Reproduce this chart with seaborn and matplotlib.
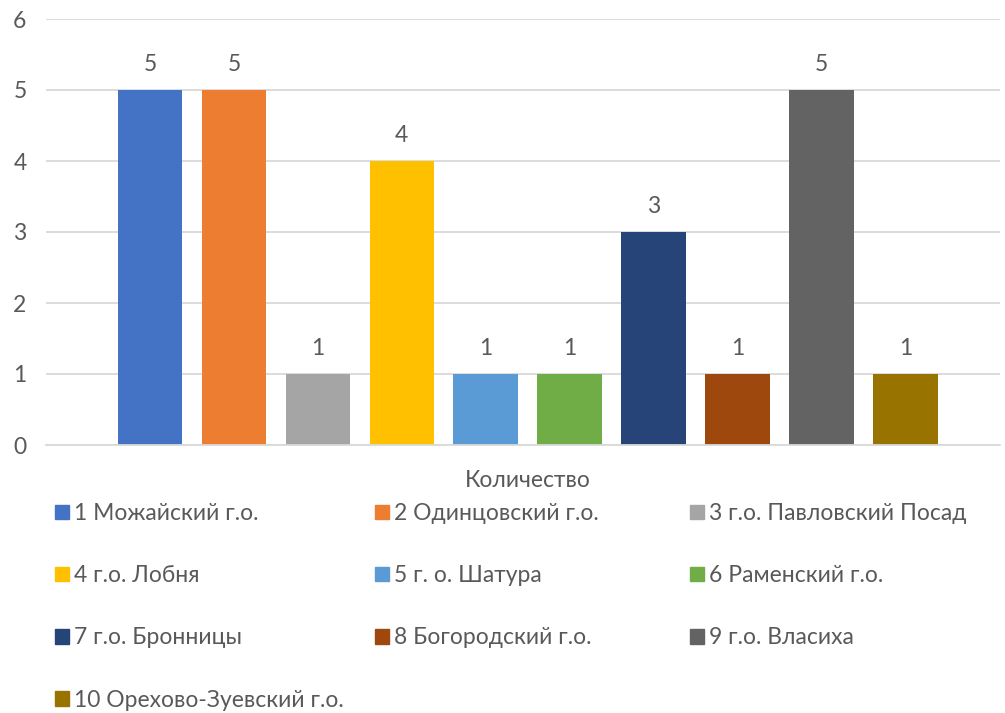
import matplotlib
matplotlib.use('Agg')
import matplotlib.pyplot as plt
import seaborn as sns
import pandas as pd

# Data
districts = ['1 Можайский г.о.', '2 Одинцовский г.о.', '3 г.о. Павловский Посад',
             '4 г.о. Лобня', '5 г. о. Шатура', '6 Раменский г.о.',
             '7 г.о. Бронницы', '8 Богородский г.о.', '9 г.о. Власиха',
             '10 Орехово-Зуевский г.о.']
counts = [5, 5, 1, 4, 1, 1, 3, 1, 5, 1]
category = 'Количество'
colors = ['#4472C4', '#ED7D31', '#A5A5A5', '#FFC000', '#5B9BD5',
          '#70AD47', '#264478', '#9E480E', '#636363', '#997300']

df = pd.DataFrame({'cat': [category] * len(districts), 'district': districts, 'count': counts})

sns.set_style('white')
plt.rcParams['font.family'] = ['Lato', 'DejaVu Sans']
text_col = '#595959'
fs = 16.5

fig = plt.figure(figsize=(10.05, 7.13), dpi=100)
ax = fig.add_axes([46 / 1005, 1 - 445 / 713, 954 / 1005, 426 / 713])

sns.barplot(data=df, x='cat', y='count', hue='district', hue_order=districts,
            palette=colors, width=0.88, gap=0.23, saturation=1, linewidth=0,
            ax=ax, legend=False)

for cont in ax.containers:
    ax.bar_label(cont, padding=11, fontsize=fs, color=text_col)

ax.set_ylim(0, 6)
ax.set_xlim(-0.505, 0.495)
ax.set_yticks(range(0, 7))
ax.yaxis.grid(True, color='#D9D9D9', linewidth=1.3)
ax.set_axisbelow(True)
for s in ['top', 'right', 'left']:
    ax.spines[s].set_visible(False)
ax.spines['bottom'].set_color('#D9D9D9')
ax.spines['bottom'].set_linewidth(1.3)
ax.tick_params(axis='both', length=0, labelsize=fs, colors=text_col)
ax.tick_params(axis='y', pad=14)
ax.tick_params(axis='x', pad=18)
ax.set_xlabel('')
ax.set_ylabel('')

# legend: three columns, filled row by row
handles = [plt.Rectangle((0, 0), 1, 1, color=c) for c in colors]
col_x = [55, 375, 690]
for j, x in enumerate(col_x):
    idx = list(range(j, len(districts), 3))
    leg = fig.legend([handles[i] for i in idx], [districts[i] for i in idx],
                     loc='upper left', bbox_to_anchor=(x / 1005, 1 - 503 / 713),
                     frameon=False, fontsize=fs, handlelength=0.6, handleheight=0.6,
                     handletextpad=0.25, labelspacing=1.8, borderpad=0,
                     labelcolor=text_col, borderaxespad=0)

fig.savefig('out.png', dpi=100)
